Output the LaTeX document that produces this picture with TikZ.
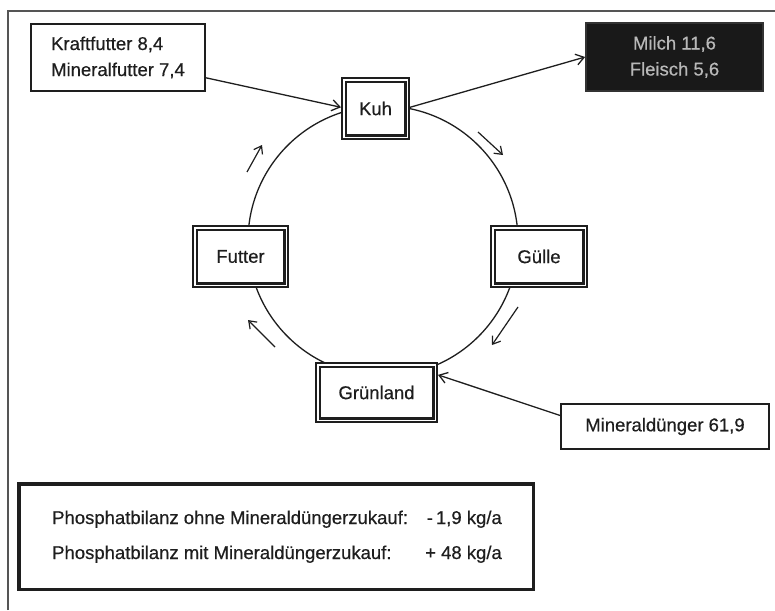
\documentclass[tikz,border=0pt]{standalone}
\usepackage{fontspec}
\setmainfont{Liberation Sans}[FakeBold=0.5]
\usetikzlibrary{arrows.meta,calc}
\definecolor{ink}{HTML}{1E1E1E}
\definecolor{frameline}{HTML}{555555}
\definecolor{milktext}{HTML}{B8B8B8}
\begin{document}
\begin{tikzpicture}[x=1pt,y=-1pt,
  every node/.style={font=\fontsize{18.5}{26}\selectfont, text=ink},
  stockbox/.style={draw=ink, double=white, line width=2.1pt, double distance=1.4pt,
    fill=white, inner sep=0pt, outer sep=2.8pt},
  infobox/.style={draw=ink, line width=1.7pt, fill=white, inner sep=0pt, outer sep=0.85pt},
  cycleline/.style={draw=ink, line width=1.3pt},
  flow/.style={draw=ink, line width=1.3pt, -{Straight Barb[length=8pt,width=11pt,line width=1.3pt]}},
  hint/.style={draw=ink, line width=1.2pt, -{Straight Barb[length=7pt,width=10pt,line width=1.2pt]}}]

\useasboundingbox (0,0) rectangle (775,610);
\fill[white] (0,0) rectangle (775,610);

% page frame (top and left edges)
\draw[frameline, line width=1.3pt] (8,610) -- (8,11) -- (775,11);

% nutrient cycle
\draw[cycleline] (383,241) circle[radius=135];

% stations on the cycle
\node[stockbox, minimum width=63.4pt, minimum height=57.4pt] (kuh) at (375.5,108.5) {Kuh};
\node[stockbox, minimum width=92.4pt, minimum height=57.4pt] (guelle) at (539,256.5) {Gülle};
\node[stockbox, minimum width=117.4pt, minimum height=55.4pt] (gruen) at (376.5,392.5) {Grünland};
\node[stockbox, minimum width=91.4pt, minimum height=57.4pt] (futter) at (240.5,256.5) {Futter};

% inputs and outputs
\node[infobox, minimum width=174pt, minimum height=67pt, align=left] (kraft) at (118,57.5)
  {Kraftfutter 8,4\\Mineralfutter 7,4};
\node[infobox, fill=black!90, draw=black!80, minimum width=177pt, minimum height=68pt,
  align=center, text=milktext] (milch) at (674.5,57)
  {Milch 11,6\\Fleisch 5,6};
\node[infobox, minimum width=208pt, minimum height=45pt] (mineral) at (665,426.5)
  {Mineraldünger 61,9};

\draw[flow] (kraft.-13) -- (kuh.178);
\draw[flow] (kuh.2) -- (milch.west);
\draw[flow] (mineral.174) -- (gruen.16);

% direction marks along the cycle
\coordinate (d1t) at (247,172); \coordinate (d1h) at (262,145);
\coordinate (d2t) at (478,132); \coordinate (d2h) at (503,155);
\coordinate (d3t) at (518,307); \coordinate (d3h) at (492,345);
\coordinate (d4t) at (275,347); \coordinate (d4h) at (248,320);
\draw[hint] (d1t) -- (d1h);
\draw[hint] (d2t) -- (d2h);
\draw[hint] (d3t) -- (d3h);
\draw[hint] (d4t) -- (d4h);

% phosphate balance
\node[draw=ink, line width=3.5pt, fill=white, minimum width=514.5pt, minimum height=105.5pt,
  inner sep=0pt] (bilanz) at (276,536.5) {};
\node[anchor=base west, inner sep=0pt] (b1) at (52,524) {Phosphatbilanz ohne Mineraldüngerzukauf:};
\node[anchor=base west, inner sep=0pt] (b2) at (52,559) {Phosphatbilanz mit Mineraldüngerzukauf:};
\node[anchor=base east, inner sep=0pt] (v1) at (502,524) {-\,1,9 kg/a};
\node[anchor=base east, inner sep=0pt] (v2) at (502,559) {+ 48 kg/a};

\end{tikzpicture}
\end{document}
